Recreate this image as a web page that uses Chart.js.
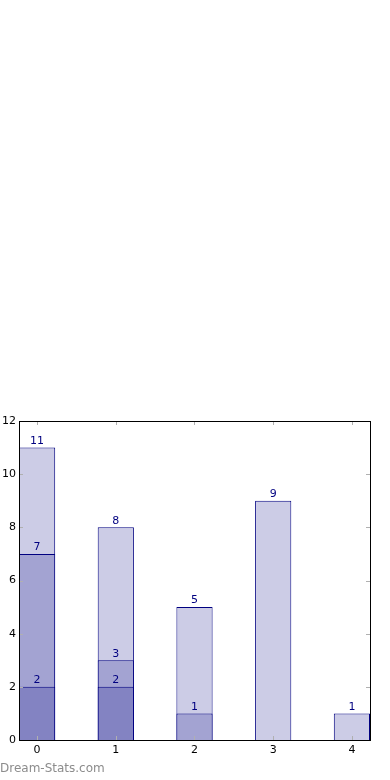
<!DOCTYPE html>
<html>
<head>
<meta charset="utf-8">
<script src="https://cdn.jsdelivr.net/npm/chart.js@4"></script>
<style>
  html, body { margin: 0; padding: 0; background: #fff; }
  #wrap { position: relative; width: 390px; height: 780px; }
  #mark { position: absolute; left: 0; top: 761px; font: 12px "DejaVu Sans", sans-serif; color: #8c8c8c; }
</style>
</head>
<body>
<div id="wrap">
  <canvas id="chart" width="390" height="780"></canvas>
  <div id="mark">Dream-Stats.com</div>
</div>
<script>
// categories on the x axis
const categories = [0, 1, 2, 3, 4];
const xLabels = ['0', '1', '2', '3', '4'];
// overlapping bars, each drawn from zero (value = running total)
const totalValues = [11, 8, 5, 9, 1];
const midValues = [7, 3, 1, null, null];
const lowValues = [2, 2, null, null, null];
const yTicks = [0, 2, 4, 6, 8, 10, 12];

const toPoints = (vals) => categories
  .map((x, i) => ({ x, y: vals[i] }))
  .filter((p) => p.y !== null);

const NAVY = '#000080';

// valeurs au-dessus des barres + cadre + petits traits internes
const decorPlugin = {
  id: 'decor',
  afterDatasetsDraw(chart) {
    const ctx = chart.ctx;
    ctx.save();
    ctx.font = '11px "DejaVu Sans", sans-serif';
    ctx.fillStyle = NAVY;
    ctx.textAlign = 'center';
    ctx.textBaseline = 'bottom';
    chart.data.datasets.forEach((ds, di) => {
      const meta = chart.getDatasetMeta(di);
      meta.data.forEach((bar, i) => {
        ctx.fillText(String(ds.data[i].y), bar.x, bar.y - 1);
      });
    });
    ctx.restore();
  },
  afterDraw(chart) {
    const { ctx, chartArea: a, scales } = chart;
    ctx.save();
    ctx.strokeStyle = '#b0b0b0';
    ctx.lineWidth = 1;
    ctx.beginPath();
    categories.forEach((v) => {
      const px = Math.round(scales.x.getPixelForValue(v)) + 0.5;
      ctx.moveTo(px, a.top); ctx.lineTo(px, a.top + 4);
      ctx.moveTo(px, a.bottom); ctx.lineTo(px, a.bottom - 4);
    });
    yTicks.forEach((v) => {
      const py = Math.round(scales.y.getPixelForValue(v)) + 0.5;
      ctx.moveTo(a.left, py); ctx.lineTo(a.left + 4, py);
      ctx.moveTo(a.right, py); ctx.lineTo(a.right - 4, py);
    });
    ctx.stroke();
    ctx.strokeStyle = '#000';
    ctx.strokeRect(Math.round(a.left) + 0.5, Math.round(a.top) + 0.5,
      Math.round(a.right - a.left), Math.round(a.bottom - a.top));
    ctx.restore();
  },
};

const barStyle = (color) => ({
  backgroundColor: color,
  borderColor: NAVY,
  borderWidth: 1,
  borderSkipped: 'start',
  categoryPercentage: 1,
  barPercentage: 0.46,
  grouped: false,
});

new Chart(document.getElementById('chart').getContext('2d'), {
  type: 'bar',
  data: {
    datasets: [
      { data: toPoints(lowValues), ...barStyle('rgb(131,131,194)') },
      { data: toPoints(midValues), ...barStyle('rgb(163,163,210)') },
      { data: toPoints(totalValues), ...barStyle('rgb(204,204,230)') },
    ],
  },
  options: {
    responsive: false,
    animation: false,
    layout: { padding: { top: 421, right: 20, left: 0, bottom: 0 } },
    plugins: { legend: { display: false }, tooltip: { enabled: false } },
    scales: {
      x: {
        type: 'linear',
        offset: false,
        bounds: 'data',
        grace: 0,
        min: -0.23,
        max: 4.23,
        afterBuildTicks: (s) => { s.ticks = categories.map((v) => ({ value: v })); },
        afterFit: (s) => { s.height = 40; },
        grid: { display: false, drawTicks: false, offset: false },
        border: { display: false },
        ticks: {
          color: '#000',
          padding: 4,
          maxRotation: 0,
          font: { family: 'DejaVu Sans', size: 11 },
          callback: (v) => xLabels[categories.indexOf(v)],
        },
      },
      y: {
        min: 0,
        max: 12,
        afterBuildTicks: (s) => { s.ticks = yTicks.map((v) => ({ value: v })); },
        afterFit: (s) => { s.width = 19; },
        grid: { display: false, drawTicks: false },
        border: { display: false },
        ticks: {
          color: '#000',
          padding: 3,
          font: { family: 'DejaVu Sans', size: 11 },
        },
      },
    },
  },
  plugins: [decorPlugin],
});
</script>
</body>
</html>
